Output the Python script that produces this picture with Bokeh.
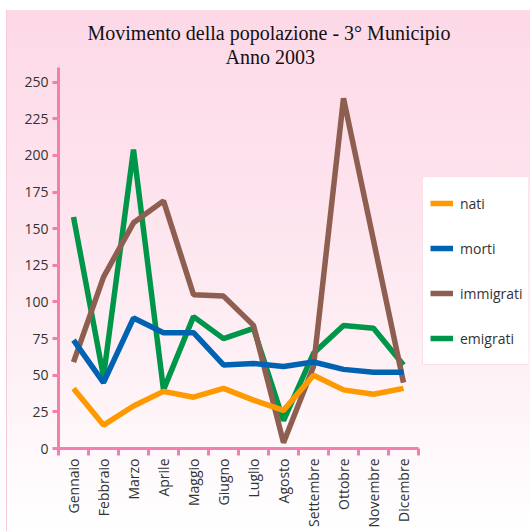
import math
from bokeh.plotting import figure
from bokeh.models import Range1d, FixedTicker, Legend, LegendItem, Title
from bokeh.embed import file_html
from bokeh.resources import INLINE

mesi = ["Gennaio", "Febbraio", "Marzo", "Aprile", "Maggio", "Giugno", "Luglio",
        "Agosto", "Settembre", "Ottobre", "Novembre", "Dicembre"]
nati = [41, 16, 29, 39, 35, 41, 33, 26, 50, 40, 37, 41]
morti = [74, 45, 89, 79, 79, 57, 58, 56, 59, 54, 52, 52]
immigrati = [59, 117, 154, 169, 105, 104, 84, 4, 56, 239, 142, 45]
emigrati = [158, 49, 204, 40, 90, 75, 82, 19, 65, 84, 82, 57]
y_ticks = [0, 25, 50, 75, 100, 125, 150, 175, 200, 225, 250]
titolo1 = "Movimento della popolazione - 3° Municipio"
titolo2 = "Anno 2003"

n = len(mesi)
xs = [i + 0.5 for i in range(n)]

# plot area: 58..528 px wide, categories occupy 58..418 (30 px each)
x_end = n * 470 / 360

p = figure(width=530, height=531, output_backend="svg", toolbar_location=None,
           x_range=Range1d(0, x_end), y_range=Range1d(0, 260),
           min_border_left=58, min_border_right=2, min_border_top=67,
           min_border_bottom=83)
p.background_fill_alpha = 0
p.border_fill_alpha = 0
p.outline_line_color = None
p.styles = {"background-image":
            "linear-gradient(to bottom, #ffffff 0px, #ffffff 10px, transparent 10px),"
            "linear-gradient(to right, #ffffff 0px, #ffffff 6px, #f8c8dc 6px, #f8c8dc 7px, transparent 7px),"
            "linear-gradient(to bottom, #fdd8e7 0%, #fde6ef 45%, #ffffff 100%)"}
p.grid.visible = False

pink = "#f280ae"
font = "Open Sans"

# y axis
p.yaxis.ticker = FixedTicker(ticks=y_ticks, minor_ticks=[])
p.yaxis.axis_line_color = pink
p.yaxis.axis_line_width = 3
p.yaxis.major_tick_line_color = pink
p.yaxis.major_tick_line_width = 3
p.yaxis.major_tick_out = 6
p.yaxis.major_tick_in = 0
p.yaxis.minor_tick_line_color = None
p.yaxis.major_label_text_font = font
p.yaxis.major_label_text_font_size = "14px"
p.yaxis.major_label_text_color = "#333333"
p.yaxis.major_label_standoff = 4

# x axis
p.xaxis.bounds = (0, n)
p.xaxis.ticker = FixedTicker(ticks=xs, minor_ticks=list(range(n + 1)))
p.xaxis.major_label_overrides = {x: m for x, m in zip(xs, mesi)}
p.xaxis.major_label_orientation = math.pi / 2
p.xaxis.axis_line_color = pink
p.xaxis.axis_line_width = 3
p.xaxis.major_tick_line_color = None
p.xaxis.major_tick_out = 0
p.xaxis.minor_tick_line_color = pink
p.xaxis.minor_tick_line_width = 3
p.xaxis.minor_tick_out = 7
p.xaxis.minor_tick_in = 0
p.xaxis.major_label_text_font = font
p.xaxis.major_label_text_font_size = "14px"
p.xaxis.major_label_text_color = "#333333"
p.xaxis.major_label_standoff = 3

series = [("nati", nati, "#ff9900"), ("morti", morti, "#0063b1"),
          ("immigrati", immigrati, "#8e5f50"), ("emigrati", emigrati, "#00964a")]
renderers = {}
for name, vals, col in reversed(series):
    renderers[name] = p.line(xs, vals, line_color=col, line_width=5.5)

legend = Legend(items=[LegendItem(label=nm, renderers=[renderers[nm]]) for nm, _, _ in series],
                location=(364, 83), orientation="vertical",
                background_fill_color="white", background_fill_alpha=1,
                border_line_color="#f8c0d8", border_line_width=1,
                padding=7, margin=0, spacing=7,
                label_height=38, glyph_height=38, glyph_width=23,
                label_standoff=7, label_text_font=font,
                label_text_font_size="14px", label_text_color="#333333")
p.add_layout(legend, "center")

title_font = "Liberation Serif"
p.add_layout(Title(text=titolo2, align="left", offset=167, standoff=0,
                   text_font=title_font, text_font_size="20px",
                   text_font_style="normal", text_color="#111111"), "above")
p.add_layout(Title(text=titolo1, align="left", offset=29, standoff=0,
                   text_font=title_font, text_font_size="20px",
                   text_font_style="normal", text_color="#111111"), "above")

open("out.html", "w").write(file_html(p, INLINE))
